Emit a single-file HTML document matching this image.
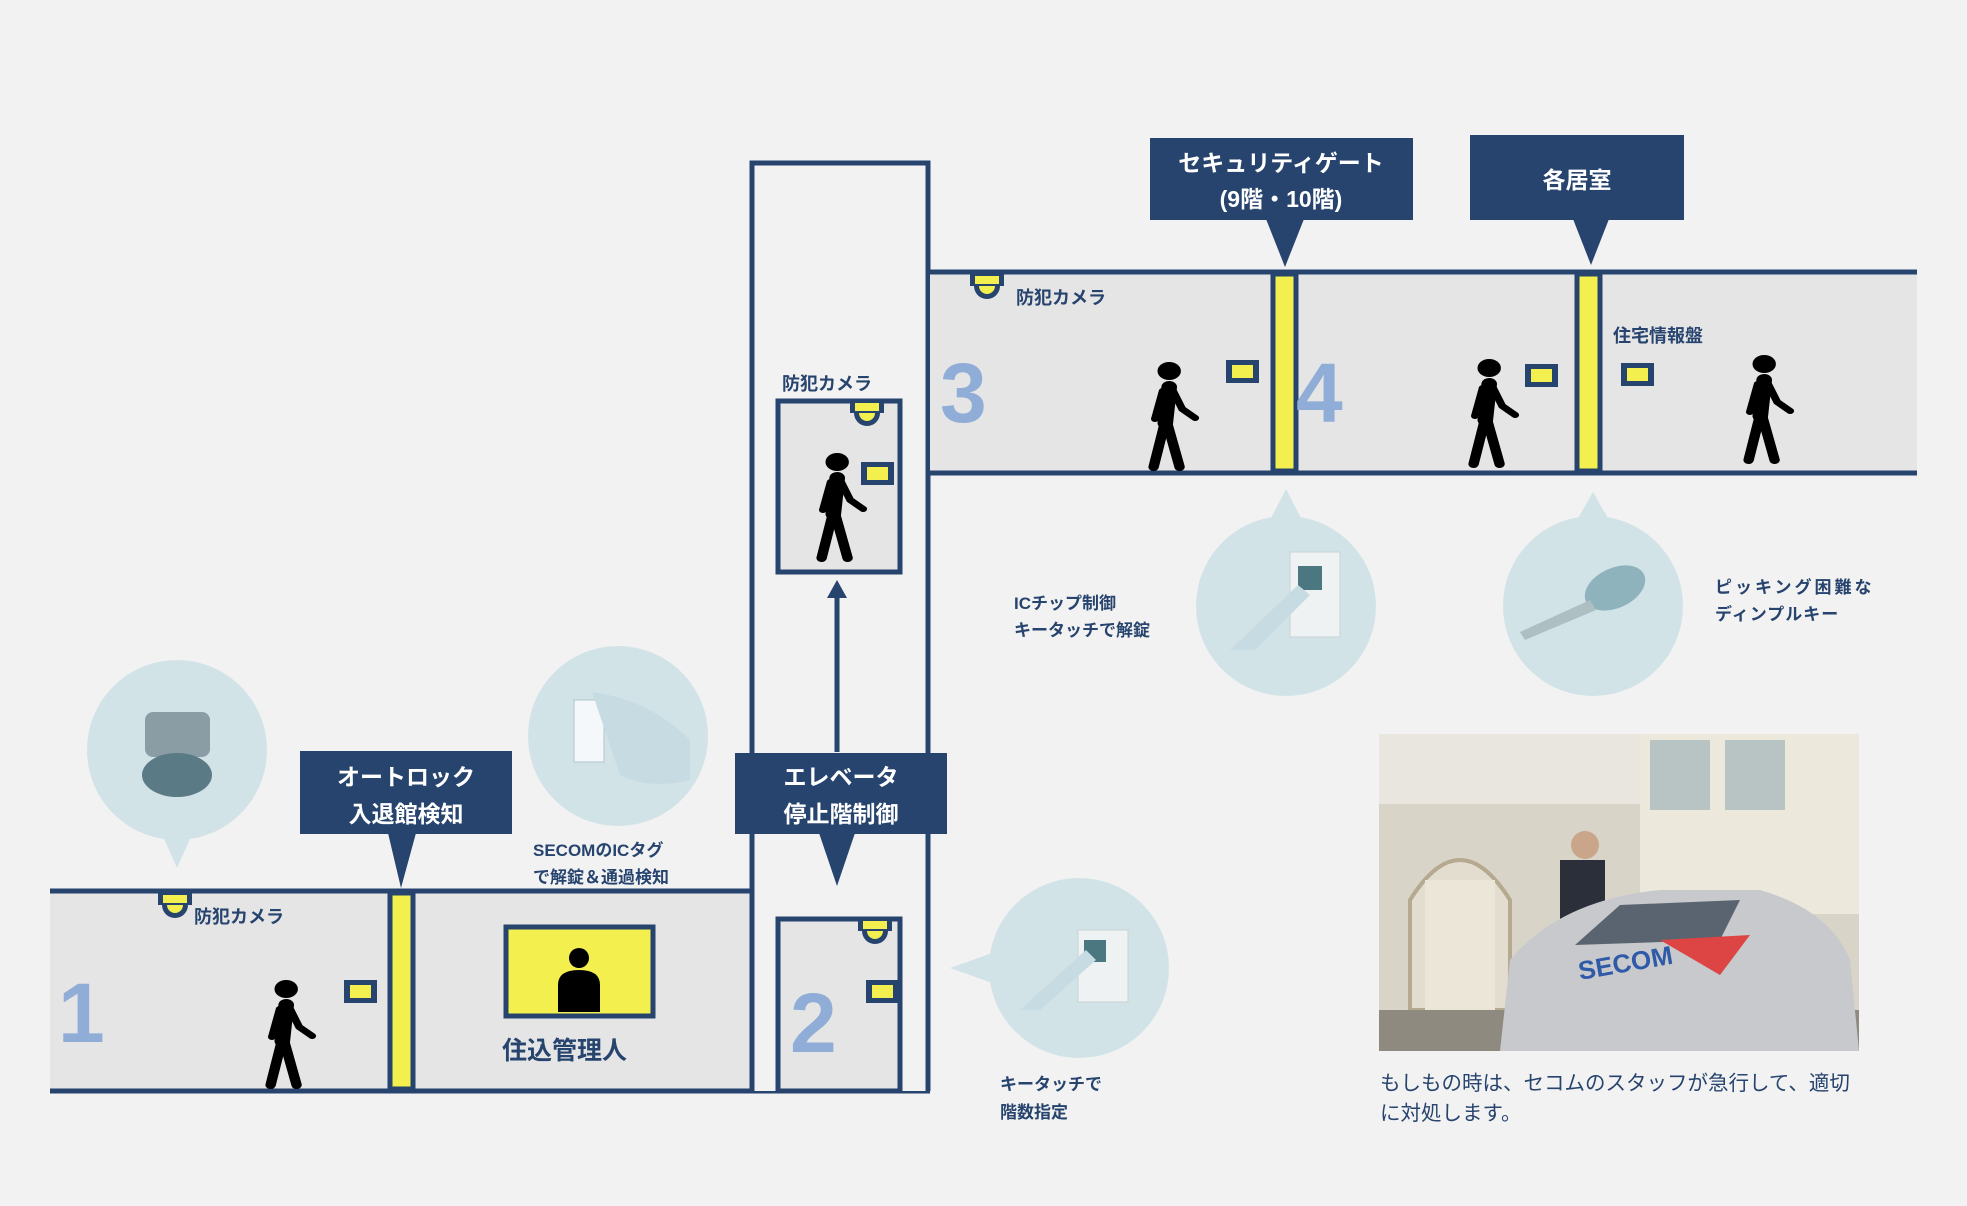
<!DOCTYPE html>
<html><head><meta charset="utf-8"><style>
html,body{margin:0;padding:0;background:#f2f2f2;}
svg{display:block;}
text{font-family:"Liberation Sans","Noto Sans CJK JP",sans-serif;font-weight:bold;}
</style></head><body>
<svg width="1967" height="1206" viewBox="0 0 1967 1206" xmlns="http://www.w3.org/2000/svg">
<defs>
<g id="walker0" fill="none" stroke="#000" stroke-linecap="round" stroke-linejoin="round">
  <circle cx="24" cy="10" r="9" fill="#000" stroke="none"/>
  <path d="M24 26 L21 62" stroke-width="12"/>
  <path d="M19 30 L13 58" stroke-width="6"/>
  <path d="M27 30 L34 48 L44 57" stroke-width="6"/>
  <path d="M21 60 L12 106" stroke-width="8"/>
  <path d="M22 60 L32 106" stroke-width="8"/>
</g>
<g id="walker"><use href="#walker0" transform="scale(1.3,1)"/></g>
<g id="sensor"><rect x="0" y="0" width="33" height="23" fill="#27446e"/><rect x="6" y="5" width="21" height="13" fill="#f2ef4f"/></g>
<g id="cam"><rect x="0" y="0" width="34" height="12" fill="#27446e"/><rect x="5" y="2" width="24" height="8" fill="#f2ef4f"/><path d="M4 12 A13 13 0 0 0 30 12 Z" fill="#27446e"/><path d="M9 12 A8 8 0 0 0 25 12 Z" fill="#f2ef4f"/></g>
</defs>
<rect width="1967" height="1206" fill="#f2f2f2"/>

<rect x="50" y="891" width="700" height="200" fill="#e5e5e5"/>
<line x1="50" y1="891" x2="752" y2="891" stroke="#27446e" stroke-width="5"/>
<line x1="50" y1="1091" x2="930" y2="1091" stroke="#27446e" stroke-width="5"/>
<rect x="752" y="163" width="176" height="928" fill="#f2f2f2"/>
<path d="M752 1091 L752 163 L928 163 L928 1091" fill="none" stroke="#27446e" stroke-width="5"/>
<rect x="930" y="272" width="987" height="201" fill="#e5e5e5"/>
<line x1="928" y1="272" x2="1917" y2="272" stroke="#27446e" stroke-width="5"/>
<line x1="928" y1="473" x2="1917" y2="473" stroke="#27446e" stroke-width="5"/>
<rect x="778" y="401" width="122" height="171" fill="#e5e5e5" stroke="#27446e" stroke-width="5"/>
<rect x="778" y="919" width="122" height="172" fill="#e5e5e5" stroke="#27446e" stroke-width="5"/>
<rect x="390" y="893" width="23" height="196" fill="#f2ef4f" stroke="#27446e" stroke-width="5"/>
<rect x="1273" y="274" width="23" height="197" fill="#f2ef4f" stroke="#27446e" stroke-width="5"/>
<rect x="1577" y="274" width="23" height="197" fill="#f2ef4f" stroke="#27446e" stroke-width="5"/>
<line x1="837" y1="752" x2="837" y2="596" stroke="#27446e" stroke-width="5"/>
<path d="M827 598 L837 580 L847 598 Z" fill="#27446e"/>

<g fill="#8fadd6" font-size="84" font-family="Liberation Sans,sans-serif" font-weight="bold">
<text x="58" y="1042">1</text><text x="790" y="1052">2</text>
<text x="940" y="422">3</text><text x="1296" y="422">4</text>
</g>

<rect x="506" y="927" width="147" height="89" fill="#f2ef4f" stroke="#27446e" stroke-width="5"/>
<circle cx="579" cy="958" r="10" fill="#000"/>
<path d="M558 1012 L558 985 Q558 970 579 970 Q600 970 600 985 L600 1012 Z" fill="#000"/>
<text x="502" y="1059" font-size="25" fill="#27446e">住込管理人</text>

<use href="#cam" x="158" y="893"/>
<use href="#cam" x="850" y="401"/>
<use href="#cam" x="858" y="919"/>
<use href="#cam" x="970" y="274"/>
<g font-size="18" fill="#27446e">
<text x="194" y="923">防犯カメラ</text>
<text x="782" y="390">防犯カメラ</text>
<text x="1016" y="304">防犯カメラ</text>
<text x="1613" y="342">住宅情報盤</text>
</g>

<use href="#sensor" x="344" y="980"/>
<use href="#sensor" x="861" y="462"/>
<use href="#sensor" x="866" y="980"/>
<use href="#sensor" x="1226" y="360"/>
<use href="#sensor" x="1525" y="364"/>
<use href="#sensor" x="1621" y="363"/>

<use href="#walker" x="255" y="979"/>
<use href="#walker" x="806" y="452"/>
<use href="#walker" x="1138" y="361"/>
<use href="#walker" x="1458" y="358"/>
<use href="#walker" x="1733" y="354"/>

<g fill="#27446e">
<rect x="300" y="751" width="212" height="83"/><path d="M388 833 L401 888 L416 833 Z"/>
<rect x="735" y="753" width="212" height="81"/><path d="M819 833 L837 886 L855 833 Z"/>
<rect x="1150" y="138" width="263" height="82"/><path d="M1266 219 L1285 267 L1304 219 Z"/>
<rect x="1470" y="135" width="214" height="85"/><path d="M1573 219 L1591 265 L1609 219 Z"/>
</g>
<g fill="#fff" font-size="23" text-anchor="middle">
<text x="406" y="785">オートロック</text><text x="406" y="822">入退館検知</text>
<text x="841" y="785">エレベータ</text><text x="841" y="822">停止階制御</text>
<text x="1281" y="171">セキュリティゲート</text><text x="1281" y="207">(9階・10階)</text>
<text x="1577" y="188">各居室</text>
</g>

<g fill="#d2e3e8">
<circle cx="177" cy="750" r="90"/><path d="M160 830 L177 868 L194 830 Z"/>
<circle cx="618" cy="736" r="90"/>
<circle cx="1079" cy="968" r="90"/><path d="M995 952 L950 968 L995 984 Z"/>
<circle cx="1286" cy="606" r="90"/><path d="M1270 520 L1286 489 L1302 520 Z"/>
<circle cx="1593" cy="606" r="90"/><path d="M1577 520 L1593 492 L1609 520 Z"/>
</g>
<rect x="145" y="712" width="65" height="45" rx="8" fill="#8a9da5"/>
<ellipse cx="177" cy="775" rx="35" ry="22" fill="#5a7a86"/>
<rect x="574" y="700" width="30" height="62" fill="#f4f8fa" stroke="#b0c4cc"/>
<path d="M592 692 Q650 700 690 740 L690 780 Q650 790 620 775 Z" fill="#c6dbe2"/>
<rect x="1078" y="930" width="50" height="72" fill="#eef2f3" stroke="#c8d2d4"/>
<rect x="1084" y="940" width="22" height="22" fill="#4a7780"/>
<path d="M1020 1010 L1086 950 L1096 960 L1040 1010 Z" fill="#c6dbe2"/>
<rect x="1290" y="552" width="50" height="85" fill="#eef2f3" stroke="#c8d2d4"/>
<rect x="1298" y="566" width="24" height="24" fill="#4a7780"/>
<path d="M1230 650 L1298 585 L1310 595 L1255 650 Z" fill="#c6dbe2"/>
<ellipse cx="1615" cy="588" rx="32" ry="20" transform="rotate(-25 1615 588)" fill="#8fb3bd"/>
<path d="M1520 632 L1590 600 L1596 610 L1525 640 Z" fill="#aebfc4"/>

<g font-size="17" fill="#27446e">
<text x="533" y="856">SECOMのICタグ</text><text x="533" y="883">で解錠＆通過検知</text>
<text x="1014" y="609">ICチップ制御</text><text x="1014" y="636">キータッチで解錠</text>
<text x="1715" y="593" letter-spacing="3">ピッキング困難な</text><text x="1715" y="620" letter-spacing="1">ディンプルキー</text>
<text x="1000" y="1090">キータッチで</text><text x="1000" y="1118">階数指定</text>
</g>
<g font-size="20.5" fill="#27446e">
<text x="1380" y="1090" style="font-weight:normal">もしもの時は、セコムのスタッフが急行して、適切</text>
<text x="1380" y="1120" style="font-weight:normal">に対処します。</text>
</g>

<g>
<rect x="1379" y="734" width="480" height="317" fill="#d9d4c8"/>
<rect x="1379" y="734" width="480" height="70" fill="#e8e6df"/>
<rect x="1640" y="734" width="219" height="180" fill="#ece8dc"/>
<rect x="1650" y="740" width="60" height="70" fill="#b8c4c4"/>
<rect x="1725" y="740" width="60" height="70" fill="#b8c4c4"/>
<path d="M1410 900 Q1460 820 1510 900 L1510 1010 L1410 1010 Z" fill="#e3ddd0" stroke="#b5a990" stroke-width="4"/>
<rect x="1425" y="880" width="70" height="130" fill="#ece6d8"/>
<rect x="1379" y="1010" width="480" height="41" fill="#8f8a80"/>
<rect x="1560" y="860" width="45" height="110" fill="#2a2f3a"/>
<circle cx="1585" cy="845" r="14" fill="#c9a58a"/>
<path d="M1500 1051 L1510 960 Q1560 900 1660 890 L1760 890 Q1830 910 1850 960 L1859 1051 Z" fill="#c7c9cc"/>
<path d="M1575 945 L1620 905 L1740 900 L1720 940 Z" fill="#5a6470"/>
<text x="1580" y="980" font-size="26" fill="#2f5aa8" transform="rotate(-10 1580 980)">SECOM</text>
<path d="M1660 940 L1750 935 L1720 975 Z" fill="#d44"/>
</g>
</svg>
</body></html>
